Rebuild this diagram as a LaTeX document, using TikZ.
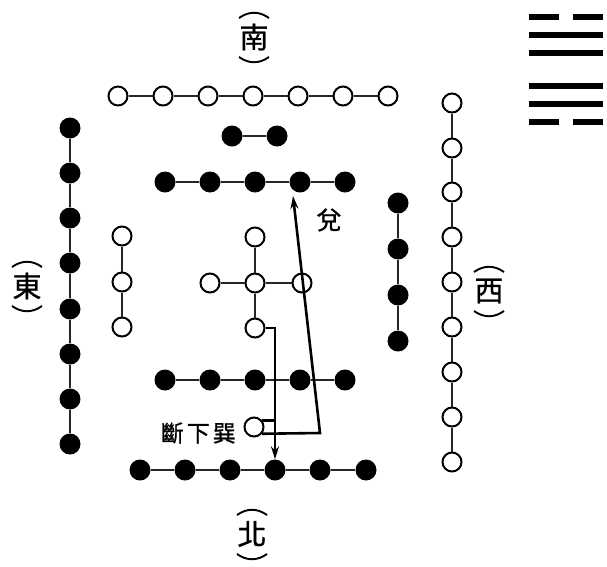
\documentclass[tikz,border=0pt]{standalone}
\usepackage{fontspec}
\newfontfamily\cjk[FakeBold=1]{Noto Sans CJK TC}
\usetikzlibrary{arrows.meta,calc}
\begin{document}
\begin{tikzpicture}[x=1pt,y=-1pt,
 wc/.style={circle,draw=black,line width=2pt,fill=white,minimum size=19pt,inner sep=0pt},
 bc/.style={circle,fill=black,minimum size=21pt,inner sep=0pt},
 link/.style={draw=black!85,line width=1.6pt},
 arr/.style={draw=black,line width=2.6pt,-{Stealth[length=13pt,width=8pt]}},
 plainarr/.style={draw=black,line width=2.6pt},
 dirlab/.style={font=\cjk\fontsize{29}{29}\selectfont,inner sep=0pt},
 lab/.style={font=\cjk\fontsize{23}{23}\selectfont,inner sep=0pt},
 brk/.style={line width=1.9pt},
 yao/.style={fill=black}]
\useasboundingbox (0,0) rectangle (607,566);

% south row (white, 7)
\foreach \i/\x in {1/118,2/163,3/208,4/253,5/298,6/343,7/388}
  \node[wc] (s\i) at (\x,96) {};
\draw[link] (s1) -- (s2) -- (s3) -- (s4) -- (s5) -- (s6) -- (s7);

% east column (black, 8)
\foreach \i/\y in {1/128,2/173,3/218,4/263,5/309,6/354,7/399,8/444}
  \node[bc] (e\i) at (70,\y) {};
\draw[link] (e1) -- (e2) -- (e3) -- (e4) -- (e5) -- (e6) -- (e7) -- (e8);

% west column (white, 9)
\foreach \i/\y in {1/103,2/148,3/192,4/237,5/282,6/327,7/372,8/417,9/462}
  \node[wc] (w\i) at (452,\y) {};
\draw[link] (w1) -- (w2) -- (w3) -- (w4) -- (w5) -- (w6) -- (w7) -- (w8) -- (w9);

% left small column (white, 3)
\foreach \i/\y in {1/236,2/282,3/327}
  \node[wc] (l\i) at (122,\y) {};
\draw[link] (l1) -- (l2) -- (l3);

% right small column (black, 4)
\foreach \i/\y in {1/203,2/249,3/295,4/341}
  \node[bc] (r\i) at (398,\y) {};
\draw[link] (r1) -- (r2) -- (r3) -- (r4);

% black pair
\node[bc] (p1) at (232,136) {};
\node[bc] (p2) at (277,136) {};
\draw[link] (p1) -- (p2);

% upper black row (5)
\foreach \i/\x in {1/165,2/210,3/255,4/300,5/345}
  \node[bc] (t\i) at (\x,182) {};
\draw[link] (t1) -- (t2) -- (t3) -- (t4) -- (t5);

% centre cross (white, 5)
\node[wc] (ct) at (255,237) {};
\node[wc] (cl) at (210,283) {};
\node[wc] (cm) at (255,283) {};
\node[wc] (cr) at (302,283) {};
\node[wc] (cb) at (255,328) {};
\draw[link] (ct) -- (cm) -- (cb);
\draw[link] (cl) -- (cm) -- (cr);

% lower black row (5)
\foreach \i/\x in {1/165,2/210,3/255,4/300,5/345}
  \node[bc] (m\i) at (\x,380) {};
\draw[link] (m1) -- (m2) -- (m3) -- (m4) -- (m5);

% small white circle
\node[wc] (sc) at (254,427) {};

% bottom black row (6)
\foreach \i/\x in {1/140,2/185,3/230,4/275,5/320,6/366}
  \node[bc] (b\i) at (\x,470) {};
\draw[link] (b1) -- (b2) -- (b3) -- (b4) -- (b5) -- (b6);

% direction labels
\node[dirlab] (nan) at (254,37) {南};
\node[dirlab] (dong) at (27,286) {東};
\node[dirlab] (xi) at (489,291) {西};
\node[dirlab] (bei) at (252,534) {北};
\foreach \n in {nan,dong,xi,bei}{
  \draw[brk] ($(\n)+(-15,-19)$) .. controls ($(\n)+(-5,-26)$) and ($(\n)+(5,-26)$) .. ($(\n)+(15,-19)$);
  \draw[brk] ($(\n)+(-15,20)$) .. controls ($(\n)+(-5,27)$) and ($(\n)+(5,27)$) .. ($(\n)+(15,20)$);
}

% text labels
\node[lab,font=\cjk\fontsize{25}{25}\selectfont] (dui) at (329,220) {兌};
\node[lab,anchor=east] (duan) at (236,433) {斷\hspace{3pt}下\hspace{3pt}巽};

% arrows
\draw[arr] (cb.east) -| (b4.north);
\coordinate (turn) at (320,433);
\coordinate (tip) at (293,196);
\draw[plainarr] (sc.37) -- (sc.37 -| b4);
\draw[arr] (sc.-40) -- (turn) -- (tip);

% hexagram
\fill[yao] (529,14) rectangle (559,20);
\fill[yao] (573,14) rectangle (603,20);
\fill[yao] (529,32) rectangle (603,38);
\fill[yao] (529,50) rectangle (603,56);
\fill[yao] (529,83) rectangle (603,89);
\fill[yao] (529,101) rectangle (603,107);
\fill[yao] (529,119) rectangle (559,125);
\fill[yao] (573,119) rectangle (603,125);
\end{tikzpicture}
\end{document}
